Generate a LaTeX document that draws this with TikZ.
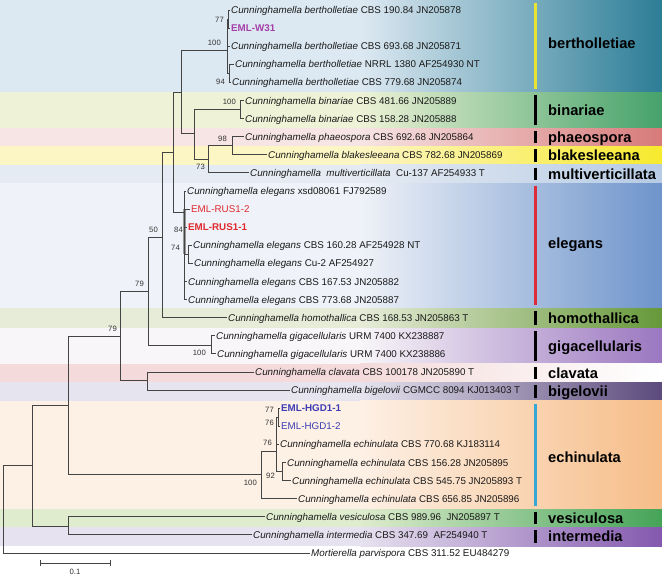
\documentclass[tikz,border=0pt]{standalone}
\usepackage{fontspec}
\setmainfont{Liberation Sans}
\usetikzlibrary{calc,positioning}
\definecolor{BranchGray}{HTML}{444444}
\definecolor{StrainPurple}{HTML}{A43FA8}
\definecolor{StrainRed}{HTML}{E0282E}
\definecolor{StrainBlue}{HTML}{3C3CB4}
\definecolor{BarYellow}{HTML}{E8E434}
\definecolor{BarRed}{HTML}{DD2B3A}
\definecolor{BarCyan}{HTML}{35A8D8}
\definecolor{BertL}{HTML}{DDE9F2}\definecolor{BertR}{HTML}{2C7D96}
\definecolor{BinL}{HTML}{EEF2D6}\definecolor{BinR}{HTML}{45A26A}
\definecolor{PhaL}{HTML}{F7E4E4}\definecolor{PhaR}{HTML}{D77A7A}
\definecolor{BlaL}{HTML}{FCF5C4}\definecolor{BlaR}{HTML}{F7EA2E}
\definecolor{MulL}{HTML}{E5EBF2}\definecolor{MulR}{HTML}{B7CBE5}
\definecolor{EleL}{HTML}{EFF2F8}\definecolor{EleR}{HTML}{6E94CB}
\definecolor{HomL}{HTML}{E7ECD9}\definecolor{HomR}{HTML}{66983A}
\definecolor{GigL}{HTML}{F8F6F8}\definecolor{GigR}{HTML}{9B77C0}
\definecolor{ClaL}{HTML}{F4DADA}\definecolor{ClaR}{HTML}{FFFFFF}
\definecolor{BigL}{HTML}{E6E4EF}\definecolor{BigR}{HTML}{5B4A7C}
\definecolor{EchL}{HTML}{FDF0E5}\definecolor{EchR}{HTML}{F6BD88}
\definecolor{VesL}{HTML}{DFECCE}\definecolor{VesR}{HTML}{45A458}
\definecolor{IntL}{HTML}{E7E2EF}\definecolor{IntR}{HTML}{8358AE}

\begin{document}
\begin{tikzpicture}[x=1pt,y=-1pt,
    br/.style={draw=BranchGray, line width=0.9pt},
    leaf/.style={anchor=west, inner sep=1.5pt, text height=7pt, text depth=0pt, text=black!90, font=\fontsize{9.8}{11}\selectfont},
    boot/.style={anchor=east, inner sep=0pt, text=black!80, font=\fontsize{7.7}{8}\selectfont},
    grp/.style={anchor=west, inner sep=0pt, text height=10.5pt, text depth=0pt, font=\fontsize{14.7}{16}\selectfont\bfseries},
    clbar/.style={line width=3pt}]
  \useasboundingbox (0,0) rectangle (662,576);

  \foreach \t/\b/\lc/\rc in {0/92/BertL/BertR, 92/128/BinL/BinR, 128/146/PhaL/PhaR, 146/164.5/BlaL/BlaR,
      164.5/183/MulL/MulR, 183/308/EleL/EleR, 308/328/HomL/HomR, 328/363.5/GigL/GigR, 363.5/382/ClaL/ClaR,
      382/400.5/BigL/BigR, 400.5/509/EchL/EchR, 509/527/VesL/VesR, 527/546/IntL/IntR}{
    \fill[\lc] (0,\t) rectangle (361,\b);
    \shade[left color=\lc, right color=\rc] (360,\t) rectangle (662,\b);
  }

  \foreach \t/\b/\m/\c/\nm [count=\i] in {0/92/43/BarYellow/bertholletiae, 92/128/110/black/binariae,
      128/146/137/black/phaeospora, 146/164.5/155.5/black/blakesleeana, 164.5/183/174/black/multiverticillata,
      183/308/243/BarRed/elegans, 308/328/318.5/black/homothallica, 328/363.5/346/black/gigacellularis,
      363.5/382/373/black/clavata, 382/400.5/391.5/black/bigelovii, 400.5/509/457/BarCyan/echinulata,
      509/527/518/black/vesiculosa, 527/546/536.5/black/intermedia}{
    \draw[clbar, \c] (535.5,\t+3) -- (535.5,\b-3);
    \node[grp] (g\i) at (548,\m) {\nm};
  }

  \node[leaf] (l1) at (229.5,10) {\textit{Cunninghamella bertholletiae} CBS 190.84 JN205878};
  \node[leaf, text=StrainPurple, font=\fontsize{9.8}{11}\selectfont\bfseries] (l2) at (229.5,28.1) {EML-W31};
  \node[leaf] (l3) at (229.5,46.2) {\textit{Cunninghamella bertholletiae} CBS 693.68 JN205871};
  \node[leaf] (l4) at (233.5,64.3) {\textit{Cunninghamella bertholletiae} NRRL 1380 AF254930 NT};
  \node[leaf] (l5) at (230.5,82.4) {\textit{Cunninghamella bertholletiae} CBS 779.68 JN205874};
  \node[leaf] (l6) at (243.5,100.5) {\textit{Cunninghamella binariae} CBS 481.66 JN205889};
  \node[leaf] (l7) at (243.5,118.6) {\textit{Cunninghamella binariae} CBS 158.28 JN205888};
  \node[leaf] (l8) at (243.5,136.7) {\textit{Cunninghamella phaeospora} CBS 692.68 JN205864};
  \node[leaf] (l9) at (266.5,154.8) {\textit{Cunninghamella blakesleeana} CBS 782.68 JN205869};
  \node[leaf] (l10) at (248.5,172.9) {\textit{Cunninghamella\ \ multiverticillata}\ \ Cu-137 AF254933 T};
  \node[leaf] (l11) at (185.5,191) {\textit{Cunninghamella elegans} xsd08061 FJ792589};
  \node[leaf, text=StrainRed] (l12) at (189.5,209.1) {EML-RUS1-2};
  \node[leaf, text=StrainRed, font=\fontsize{9.8}{11}\selectfont\bfseries] (l13) at (186.5,227.2) {EML-RUS1-1};
  \node[leaf] (l14) at (191.5,245.3) {\textit{Cunninghamella elegans} CBS 160.28 AF254928 NT};
  \node[leaf] (l15) at (192.5,263.4) {\textit{Cunninghamella elegans} Cu-2 AF254927};
  \node[leaf] (l16) at (186.5,281.5) {\textit{Cunninghamella elegans} CBS 167.53 JN205882};
  \node[leaf] (l17) at (186.5,299.6) {\textit{Cunninghamella elegans} CBS 773.68 JN205887};
  \node[leaf] (l18) at (226.5,317.7) {\textit{Cunninghamella homothallica} CBS 168.53 JN205863 T};
  \node[leaf] (l19) at (214.5,335.8) {\textit{Cunninghamella gigacellularis} URM 7400 KX238887};
  \node[leaf] (l20) at (215.5,353.9) {\textit{Cunninghamella gigacellularis} URM 7400 KX238886};
  \node[leaf] (l21) at (253.5,372) {\textit{Cunninghamella clavata} CBS 100178 JN205890 T};
  \node[leaf] (l22) at (289.5,390.1) {\textit{Cunninghamella bigelovii} CGMCC 8094 KJ013403 T};
  \node[leaf, text=StrainBlue, font=\fontsize{9.8}{11}\selectfont\bfseries] (l23) at (279.5,408.2) {EML-HGD1-1};
  \node[leaf, text=StrainBlue] (l24) at (279.5,426.3) {EML-HGD1-2};
  \node[leaf] (l25) at (278.5,444.4) {\textit{Cunninghamella echinulata} CBS 770.68 KJ183114};
  \node[leaf] (l26) at (285.5,462.5) {\textit{Cunninghamella echinulata} CBS 156.28 JN205895};
  \node[leaf] (l27) at (290.5,480.6) {\textit{Cunninghamella echinulata} CBS 545.75 JN205893 T};
  \node[leaf] (l28) at (296.5,498.7) {\textit{Cunninghamella echinulata} CBS 656.85 JN205896};
  \node[leaf] (l29) at (264.5,516.8) {\textit{Cunninghamella vesiculosa} CBS 989.96\ \ JN205897 T};
  \node[leaf] (l30) at (251.5,534.9) {\textit{Cunninghamella intermedia} CBS 347.69\ \ AF254940 T};
  \node[leaf] (l31) at (309.5,553) {\textit{Mortierella parvispora} CBS 311.52 EU484279};

  \coordinate (root) at (3,465.5);
  \coordinate (n1) at (32,465.5);
  \coordinate (n2) at (68,405);
  \coordinate (nvi) at (68,526);
  \coordinate (n3) at (120,336);
  \coordinate (e0) at (261,474);
  \coordinate (ncb) at (147,380);
  \coordinate (n4) at (148,291);
  \coordinate (ngig) at (211,345);
  \coordinate (n5) at (162,237);
  \coordinate (n6) at (173,152);
  \coordinate (n7) at (181,92);
  \coordinate (nel) at (184,212);
  \coordinate (nb) at (227,50);
  \coordinate (nw) at (228.5,19);
  \coordinate (n94) at (229.5,73);
  \coordinate (n8) at (194,133);
  \coordinate (nbin) at (240,109.5);
  \coordinate (n9) at (208,159);
  \coordinate (n10) at (232,145.7);
  \coordinate (n84) at (184.5,231);
  \coordinate (n74) at (188.5,254);
  \coordinate (e1) at (276,451);
  \coordinate (n77) at (278,417);
  \coordinate (n92) at (282,471.5);

  \draw[line width=2.2pt, black!40] (n84 |- l12.west) -- (n84 |- n74);

  \draw[br] (root) |- (n1) (root) |- (l31.west);
  \draw[br] (n1) |- (n2) (n1) |- (nvi);
  \draw[br] (nvi) |- (l29.west) (nvi) |- (l30.west);
  \draw[br] (n2) |- (n3) (n2) |- (e0);
  \draw[br] (n3) |- (n4) (n3) |- (ncb);
  \draw[br] (ncb) |- (l21.west) (ncb) |- (l22.west);
  \draw[br] (n4) |- (n5) (n4) |- (ngig);
  \draw[br] (ngig) |- (l19.west) (ngig) |- (l20.west);
  \draw[br] (n5) |- (n6) (n5) |- (l18.west);
  \draw[br] (n6) |- (n7) (n6) |- (nel);
  \draw[br] (n7) |- (nb) (n7) |- (n8);
  \draw[br] (nb) |- (nw) (nb) |- (l3.west) (nb) |- (n94);
  \draw[br] (nw) |- (l1.west) (nw) |- (l2.west);
  \draw[br] (n94) |- (l4.west) (n94) |- (l5.west);
  \draw[br] (n8) |- (nbin) (n8) |- (n9);
  \draw[br] (nbin) |- (l6.west) (nbin) |- (l7.west);
  \draw[br] (n9) |- (n10) (n9) |- (l10.west);
  \draw[br] (n10) |- (l8.west) (n10) |- (l9.west);
  \draw[br] (nel) |- (l11.west) (nel) |- (l17.west) (nel |- l16.west) -- (l16.west);
  \draw[br] (n84) |- (l12.west) (n84) |- (l13.west) (n84) |- (n74);
  \draw[br] (n74) |- (l14.west) (n74) |- (l15.west);
  \draw[br] (e0) |- (e1) (e0) |- (l28.west);
  \draw[br] (e1) |- (n77) (e1) |- (l25.west) (e1) |- (n92);
  \draw[br] (n77) |- (l23.west) (n77) |- (l24.west);
  \draw[br] (n92) |- (l26.west) (n92) |- (l27.west);

  \node[boot] (s1) at (224,20) {77};
  \node[boot] (s2) at (221,43) {100};
  \node[boot] (s3) at (225,82) {94};
  \node[boot] (s4) at (236,102) {100};
  \node[boot] (s5) at (227,139) {98};
  \node[boot] (s6) at (205,166.7) {73};
  \node[boot] (s7) at (158,230) {50};
  \node[boot] (s8) at (183,230) {84};
  \node[boot] (s9) at (180,248) {74};
  \node[boot] (s10) at (144,284) {79};
  \node[boot] (s11) at (117,329) {79};
  \node[boot] (s12) at (206,353) {100};
  \node[boot] (s13) at (274,410) {77};
  \node[boot] (s14) at (274,423) {76};
  \node[boot] (s15) at (272,443) {76};
  \node[boot] (s16) at (275,476) {92};
  \node[boot] (s17) at (257,483) {100};

  \coordinate (sb0) at (40,563);
  \coordinate (sb1) at (110,563);
  \draw[br] (sb0) -- (sb1);
  \draw[br] ([yshift=-3pt]sb0) -- ([yshift=3pt]sb0) ([yshift=-3pt]sb1) -- ([yshift=3pt]sb1);
  \node[boot, anchor=center] (sbl) at (75,572) {0.1};
\end{tikzpicture}
\end{document}
